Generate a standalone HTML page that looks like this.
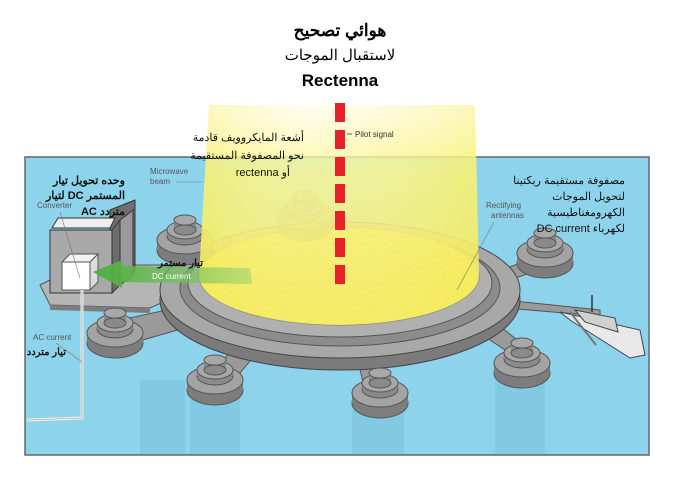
<!DOCTYPE html>
<html><head><meta charset="utf-8"><style>
body{margin:0;background:#fff;width:688px;height:489px;overflow:hidden}
svg{display:block}
text{font-family:"Liberation Sans","Noto Sans CJK SC",sans-serif}
</style></head><body>
<svg width="688" height="489" viewBox="0 0 688 489">
<defs>
<linearGradient id="beam" x1="0" y1="0" x2="0" y2="1">
<stop offset="0" stop-color="#fffbe0" stop-opacity=".5"/>
<stop offset=".3" stop-color="#fbf48a"/>
<stop offset="1" stop-color="#f6ec5a"/>
</linearGradient>
<linearGradient id="beamh" x1="0" y1="0" x2="1" y2="0">
<stop offset="0" stop-color="#f3ea4a"/>
<stop offset=".4" stop-color="#fffbcc" stop-opacity=".3"/>
<stop offset="1" stop-color="#f3ea4a"/>
</linearGradient>
<pattern id="hatch" width="6" height="6" patternUnits="userSpaceOnUse" patternTransform="rotate(70)">
<rect width="6" height="6" fill="#e8dc55"/><line x1="0" y1="0" x2="0" y2="6" stroke="#b3a52d" stroke-width="1"/>
</pattern>
<linearGradient id="arrow" x1="0" y1="0" x2="1" y2="0">
<stop offset="0" stop-color="#4cae3c"/><stop offset="1" stop-color="#8fd070" stop-opacity=".5"/>
</linearGradient>
<g id="pod">
<ellipse cx="0" cy="8" rx="28" ry="15" fill="#7d7d7d" stroke="#555"/>
<rect x="-28" y="-2" width="56" height="10" fill="#7d7d7d"/>
<ellipse cx="0" cy="-2" rx="28" ry="14" fill="#a3a3a3" stroke="#555"/>
<ellipse cx="0" cy="-6" rx="18" ry="9" fill="#8a8a8a" stroke="#555"/>
<rect x="-18" y="-12" width="36" height="6" fill="#8a8a8a"/>
<ellipse cx="0" cy="-12" rx="18" ry="9" fill="#a8a8a8" stroke="#555"/>
<rect x="-11" y="-22" width="22" height="10" fill="#8a8a8a"/>
<ellipse cx="0" cy="-12" rx="11" ry="5" fill="#8a8a8a" stroke="#555"/>
<ellipse cx="0" cy="-22" rx="11" ry="5" fill="#a8a8a8" stroke="#555"/>
</g>
</defs>
<rect x="25" y="157" width="624" height="298" fill="#8dd3ec" stroke="#666" stroke-width="1.5"/>
<g fill="#7cc4de" opacity=".6">
<rect x="140" y="380" width="45" height="74"/><rect x="190" y="395" width="50" height="59"/>
<rect x="352" y="410" width="52" height="44"/><rect x="495" y="380" width="50" height="74"/>
</g>
<g fill="#9a9a9a" stroke="#555">
<polygon points="120,320 190,305 195,325 125,345"/>
<polygon points="210,375 245,335 265,343 230,385"/>
<polygon points="365,390 355,350 378,350 390,392"/>
<polygon points="520,360 475,330 492,320 530,350"/>
<polygon points="180,245 230,262 225,275 175,258"/>
<polygon points="540,255 490,275 495,285 545,268"/>
<polygon points="505,300 600,310 600,316 505,308"/>
</g>
<polygon points="40,285 80,265 175,265 190,290 150,308 50,305" fill="#b5b5b5" stroke="#555"/>
<polygon points="50,305 150,308 150,313 50,310" fill="#7d7d7d"/>
<ellipse cx="340" cy="300" rx="180" ry="70" fill="#7b7b7b" stroke="#444"/>
<ellipse cx="340" cy="290" rx="180" ry="68" fill="#a8a8a8" stroke="#444"/>
<ellipse cx="340" cy="288" rx="160" ry="58" fill="#8c8c8c" stroke="#555"/>
<ellipse cx="340" cy="283" rx="152" ry="54" fill="#b0b0b0" stroke="#555"/>
<ellipse cx="339" cy="276" rx="140" ry="49" fill="url(#hatch)" stroke="#777"/>
<use href="#pod" x="185" y="242"/>
<use href="#pod" x="545" y="255"/>
<use href="#pod" x="115" y="335"/>
<use href="#pod" x="215" y="382"/>
<use href="#pod" x="380" y="395"/>
<use href="#pod" x="522" y="365"/>
<use href="#pod" x="305" y="218" opacity=".6"/>
<path d="M209,105 L475,105 L479,276 A140,49 0 0 1 199,276 Z" fill="url(#beam)" opacity=".85"/>
<path d="M209,105 L475,105 L479,276 A140,49 0 0 1 199,276 Z" fill="url(#beamh)" opacity=".35"/>
<line x1="340" y1="103" x2="340" y2="285" stroke="#e8202a" stroke-width="10" stroke-dasharray="19,8"/>
<line x1="347" y1="134" x2="352" y2="134" stroke="#666"/>
<text x="355" y="137" font-size="8" fill="#333">Pilot signal</text>
<polygon points="110,210 135,200 135,270 110,282" fill="#6f6f6f" stroke="#333"/>
<polygon points="52,228 58,218 115,218 110,228" fill="#eee" stroke="#333"/>
<polygon points="50,230 112,230 112,293 50,293" fill="#a9a9a9" stroke="#333"/>
<polygon points="112,230 120,220 120,285 112,293" fill="#6c6c6c" stroke="#333"/>
<polygon points="120,220 133,210 133,275 120,285" fill="#999" stroke="#333"/>
<rect x="62" y="262" width="28" height="28" fill="#fff" stroke="#555"/>
<polygon points="62,262 70,254 98,254 90,262" fill="#f2f2f2" stroke="#555"/>
<polygon points="90,262 98,254 98,282 90,290" fill="#ddd" stroke="#555"/>
<polyline points="82,290 82,418 27,420" fill="none" stroke="#eee" stroke-width="3"/>
<polyline points="82,290 82,418 27,420" fill="none" stroke="#999" stroke-width=".6"/>
<polygon points="93,272 122,260 122,266 250,268 252,284 122,282 122,288" fill="url(#arrow)"/>
<text x="152" y="279" font-size="8" fill="#fff">DC current</text>
<text x="203" y="266" font-size="10" font-weight="bold" direction="rtl" fill="#111">تيار مستمر</text>
<polygon points="560,312 640,330 645,355 630,358 570,320" fill="#e8e8e8" stroke="#444"/>
<polygon points="575,310 615,318 618,332 585,322" fill="#d0d0d0" stroke="#444"/>
<line x1="592" y1="295" x2="592" y2="312" stroke="#333" stroke-width="1.5"/>
<line x1="570" y1="312" x2="596" y2="345" stroke="#777" stroke-width="2"/>
<text x="150" y="174" font-size="8" fill="#555">Microwave</text>
<text x="150" y="184" font-size="8" fill="#555">beam</text>
<line x1="176" y1="182" x2="202" y2="182" stroke="#777" stroke-width=".6"/>
<text x="37" y="208" font-size="8" fill="#555">Converter</text>
<line x1="60" y1="212" x2="80" y2="278" stroke="#777" stroke-width=".6"/>
<text x="486" y="208" font-size="8" fill="#555">Rectifying</text>
<text x="491" y="218" font-size="8" fill="#555">antennas</text>
<line x1="494" y1="222" x2="457" y2="290" stroke="#777" stroke-width=".6"/>
<text x="33" y="340" font-size="8" fill="#555">AC current</text>
<text x="66" y="355" font-size="10" font-weight="bold" direction="rtl" fill="#111">تيار متردد</text>
<line x1="56" y1="343" x2="82" y2="362" stroke="#777" stroke-width=".6"/>
<g font-size="11" direction="rtl" fill="#111" font-weight="bold">
<text x="125" y="184">وحده تحويل تيار</text>
<text x="125" y="199">المستمر DC لتيار</text>
<text x="125" y="215">متردد AC</text>
</g>
<g font-size="11" direction="rtl" fill="#111">
<text x="304" y="141">أشعة المايكروويف قادمة</text>
<text x="304" y="159">نحو المصفوفة المستقيمة</text>
<text x="290" y="176">أو rectenna</text>
<text x="625" y="184">مصفوفة مستقيمة ريكتينا</text>
<text x="625" y="200">لتحويل الموجات</text>
<text x="625" y="216">الكهرومغناطيسية</text>
<text x="625" y="232">لكهرباء  DC current</text>
</g>
<g text-anchor="middle" fill="#000">
<text x="340" y="36" font-size="17" font-weight="bold">هوائي تصحيح</text>
<text x="340" y="60" font-size="15">لاستقبال الموجات</text>
<text x="340" y="86" font-size="17" font-weight="bold">Rectenna</text>
</g>
</svg>
</body></html>
